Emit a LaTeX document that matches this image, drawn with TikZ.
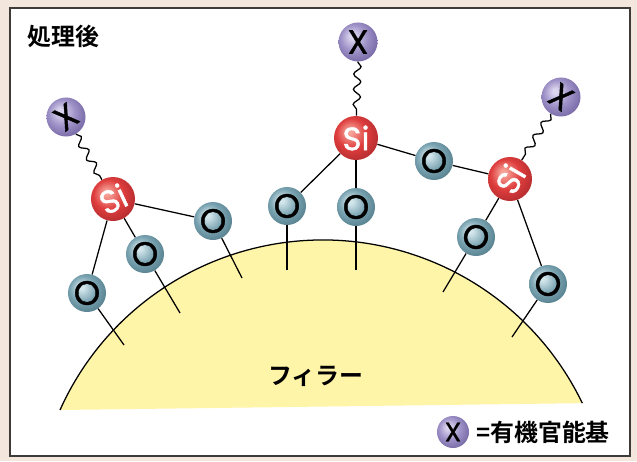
\documentclass[tikz,border=0pt]{standalone}
\usepackage{fontspec}
\setmainfont{Noto Sans CJK JP}[BoldFont={Noto Sans CJK JP Bold}]
\newfontfamily\atomfont{Poppins}[FakeBold=1.2]
\usepackage{xcolor}
\usepackage{tikz}
\usetikzlibrary{positioning, decorations.pathmorphing}

\definecolor{bgbeige}{HTML}{F3E6DD}
\definecolor{framegray}{HTML}{3D3A3A}
\definecolor{filleryellow}{HTML}{FFF5A8}
\definecolor{ohi}{HTML}{D3E6EC}
\definecolor{obase}{HTML}{7BA4B2}
\definecolor{odark}{HTML}{557E8C}
\definecolor{sihi}{HTML}{F6A096}
\definecolor{sibase}{HTML}{DE3D3D}
\definecolor{sidark}{HTML}{B22B2E}
\definecolor{xhi}{HTML}{DCD5EE}
\definecolor{xbase}{HTML}{9D91C7}
\definecolor{xdark}{HTML}{7466A3}

\pgfdeclareradialshading{oshade}{\pgfpoint{-8bp}{8bp}}{color(0bp)=(ohi); color(3bp)=(ohi); color(17bp)=(obase); color(31bp)=(odark); color(50bp)=(odark)}
\pgfdeclareradialshading{sishade}{\pgfpoint{-8bp}{8bp}}{color(0bp)=(sihi); color(3bp)=(sihi); color(17bp)=(sibase); color(31bp)=(sidark); color(50bp)=(sidark)}
\pgfdeclareradialshading{xshade}{\pgfpoint{-8bp}{8bp}}{color(0bp)=(xhi); color(3bp)=(xhi); color(17bp)=(xbase); color(31bp)=(xdark); color(50bp)=(xdark)}

\begin{document}
\begin{tikzpicture}[
    x=0.025cm, y=-0.025cm,
    bond/.style={line width=0.9pt, draw=black},
    wavy/.style={line width=0.9pt, decorate, decoration={snake, segment length=0.38cm, amplitude=0.09cm}},
    otext/.style={inner sep=0pt, font=\atomfont\fontsize{24}{24}\selectfont},
    sitext/.style={inner sep=0pt, text=white, font=\atomfont\fontsize{23}{23}\selectfont},
    xtext/.style={inner sep=0pt, font=\atomfont\fontsize{24}{24}\selectfont},
    oatom/.style={circle, minimum size=0.95cm, shading=oshade, otext},
    siatom/.style={circle, minimum size=1.1cm, shading=sishade, sitext},
    xgroup/.style={circle, minimum size=0.975cm, shading=xshade, xtext},
    jplabel/.style={font=\fontsize{17}{17}\selectfont\bfseries}
]
% Background and frame
\fill[bgbeige] (0,0) rectangle (637,461);
\draw[framegray, fill=white, line width=1.3pt] (10,8) rectangle (630,456);
\node[jplabel, anchor=west, inner sep=0pt] (title) at (27,36) {処理後};

% Filler surface
\fill[filleryellow] (60,410) arc[start angle=155.8, end angle=25.7, radius=7.2cm] -- cycle;
\draw[line width=0.9pt] (60,410) arc[start angle=155.8, end angle=25.7, radius=7.2cm];
\node[jplabel] (filler) at (316,376) {フィラー};

% Nodes
\node[xgroup] (X1) at (66,117) {};
\node[xgroup] (X2) at (358,42) {X};
\node[xgroup] (X3) at (561,97) {};
\node[xtext, rotate=35] (X1t) at (X1) {X};
\node[xtext, rotate=-35] (X3t) at (X3) {X};

\node[siatom] (Si1) at (113,199) {};
\node[siatom] (Si2) at (356,138) {Si};
\node[siatom] (Si3) at (510,179) {};
\node[sitext, rotate=25] (Si1t) at (Si1) {Si};
\node[sitext, rotate=60] (Si3t) at (Si3) {Si};

\node[oatom] (Oa) at (87,293) {O};
\node[oatom] (Ob) at (145,254) {O};
\node[oatom] (Oc) at (213,221) {O};
\node[oatom] (Od) at (287,206) {O};
\node[oatom] (Oe) at (356,207) {O};
\node[oatom] (Of) at (434,161) {O};
\node[oatom] (Og) at (476,237) {};
\node[oatom] (Oh) at (548,284) {};
\node[otext, rotate=-25] (Ogt) at (Og) {O};
\node[otext, rotate=-25] (Oht) at (Oh) {O};

% Surface anchors
\coordinate (sa) at (124,345);
\coordinate (sb) at (180,313);
\coordinate (sc) at (242,278);
\coordinate (sd) at (287,270);
\coordinate (se) at (356,270);
\coordinate (sg) at (443,292);
\coordinate (sh) at (512,337);

% Organic groups
\draw[wavy] (X1) -- (Si1);
\draw[wavy] (X2) -- (Si2);
\draw[wavy] (X3) -- (Si3);

% Siloxane bonds
\draw[bond] (Si1) -- (Oa);
\draw[bond] (Si1) -- (Ob);
\draw[bond] (Si1) -- (Oc);
\draw[bond] (Si2) -- (Od);
\draw[bond] (Si2) -- (Oe);
\draw[bond] (Si2) -- (Of);
\draw[bond] (Of) -- (Si3);
\draw[bond] (Si3) -- (Og);
\draw[bond] (Si3) -- (Oh);

% Bonds to the filler
\draw[bond] (Oa) -- (sa);
\draw[bond] (Ob) -- (sb);
\draw[bond] (Oc) -- (sc);
\draw[bond] (Od) -- (sd);
\draw[bond] (Oe) -- (se);
\draw[bond] (Og) -- (sg);
\draw[bond] (Oh) -- (sh);

% Legend
\node[xgroup, minimum size=0.8cm, font=\atomfont\fontsize{19}{19}\selectfont] (lx) at (453,432) {X};
\node[jplabel, right=0.05cm of lx] (legend) {=有機官能基};
\end{tikzpicture}
\end{document}
